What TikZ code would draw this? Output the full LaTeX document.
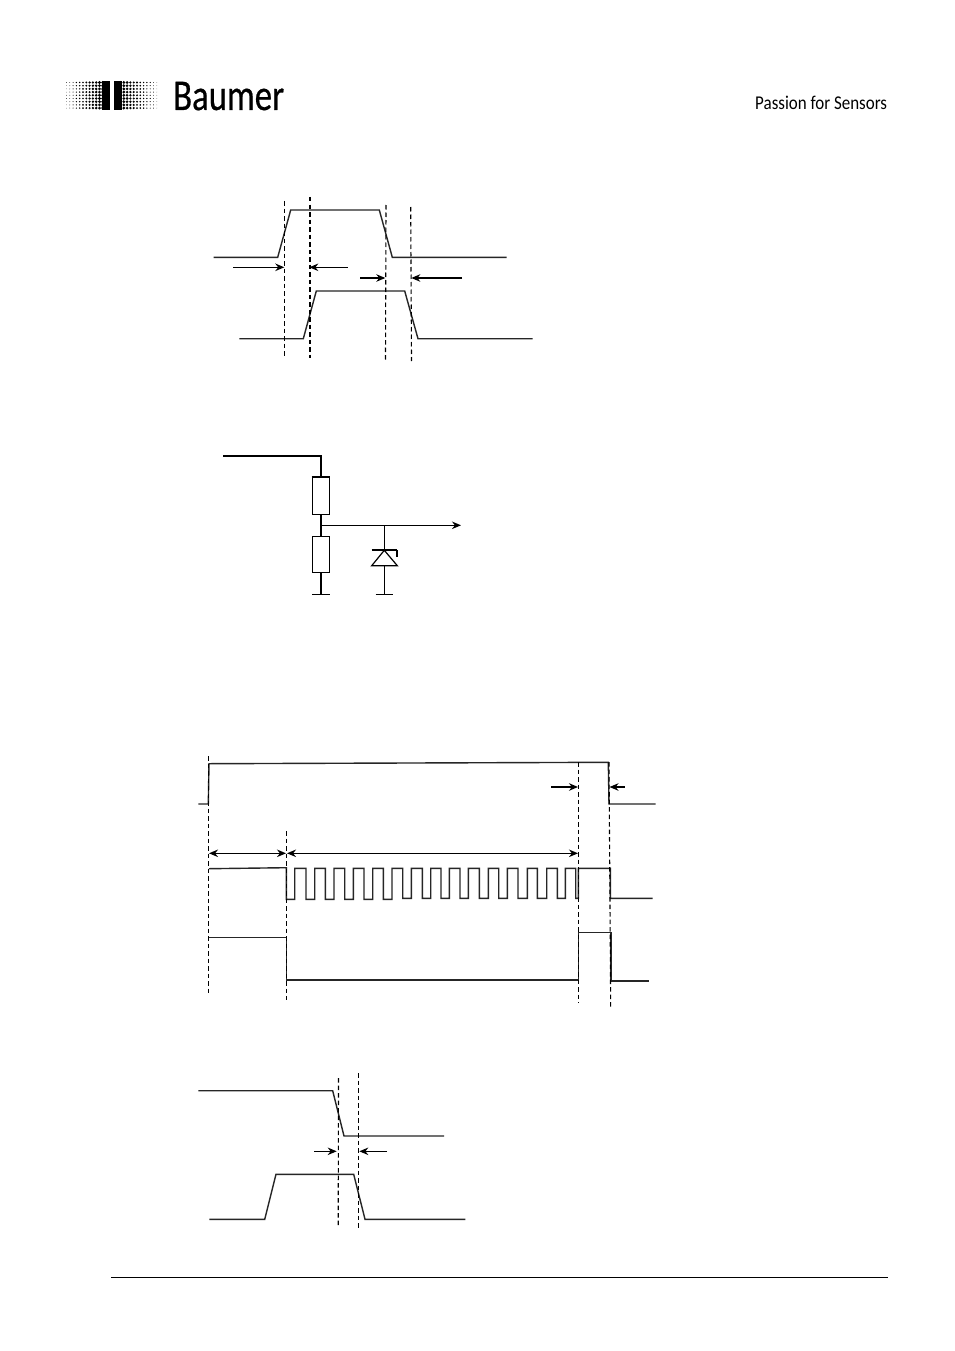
\documentclass[tikz,border=0pt]{standalone}
\usepackage{fontspec}
\setmainfont{Carlito}
\newfontfamily\brandfont[FakeBold=0.6]{Carlito}
\usetikzlibrary{arrows.meta}
\tikzset{
  wave/.style={line width=1.4pt,black!85,line join=miter},
  wire/.style={line width=1.2pt,black},
  thickwire/.style={line width=2.4pt,black},
  guide/.style={line width=1.1pt,black,dash pattern=on 4.5pt off 3pt},
  guideheavy/.style={guide,line width=2pt},
  pointer/.style={line width=1.3pt,black,-{Stealth[length=9pt,width=7.5pt]}},
  twoway/.style={line width=1.3pt,black,{Stealth[length=9pt,width=7.5pt]}-{Stealth[length=9pt,width=7.5pt]}},
  resistor/.style={draw,line width=1.2pt,minimum width=17pt,inner sep=0pt,fill=white},
  brand/.style={inner sep=0pt,anchor=base west,text=black}
}
\begin{document}
\begin{tikzpicture}[x=1pt,y=-1pt]
\useasboundingbox (0,0) rectangle (954,1351);
\fill[white] (0,0) rectangle (954,1351);

% logo halftone
\foreach \i in {0,...,11}{
  \foreach \j in {0,...,8}{
    \pgfmathsetmacro{\r}{0.3+0.125*\i}
    \fill[black] ({66.5+3.3*\i},{82.5+3.2*\j}) circle[radius=\r];
    \fill[black] ({156.8-3.3*\i},{82.5+3.2*\j}) circle[radius=\r];
  }
}
\fill[black] (101.5,80.8) rectangle (110,110);
\fill[black] (113.5,80.8) rectangle (122,110);
\node[brand] (brandname) at (173,110) {\scalebox{0.79}[1]{\brandfont\fontsize{44}{44}\selectfont Baumer}};
\node[brand] (slogan) at (755,109.5) {\scalebox{0.87}[1]{\fontsize{19.5}{19.5}\selectfont Passion for Sensors}};

% diagram 1
\draw[wave] (213.7,257.3) -- (277.7,257.3) -- (290.7,210) -- (379.3,210) -- (392.3,257.3) -- (506.7,257.3);
\draw[wave] (239.3,338.7) -- (303.3,338.7) -- (316.3,291) -- (404.7,291) -- (418,338.7) -- (532.7,338.7);
\draw[guide] (284.3,201) -- (284.3,357);
\draw[guideheavy] (310,197) -- (310,358);
\draw[guide] (386,205) -- (385.5,361);
\draw[guide] (410.7,207) -- (411.5,361);
\draw[pointer] (233.3,267.3) -- (284.3,267.3);
\draw[pointer] (347.7,267.3) -- (309.3,267.3);
\draw[pointer] (360,278) -- (385.3,278);
\draw[pointer] (462,278) -- (411.3,278);

% diagram 2
\node[resistor,minimum height=36.6pt] (r1) at (320.8,496) {};
\node[resistor,minimum height=36pt] (r2) at (320.8,554.3) {};
\coordinate (vin) at (223.3,456);
\coordinate (corner) at (320.8,456);
\coordinate (junction) at (320.8,525.3);
\coordinate (tap) at (384.3,525.3);
\coordinate (out) at (461,525.3);
\coordinate (gnda) at (320.8,594.3);
\coordinate (gndb) at (384.3,594.3);
\draw[thickwire] (vin) -- (corner) -- (r1.north);
\draw[thickwire] (r1.north west) -- (r1.north east);
\draw[thickwire] (r1.south) -- (r2.north);
\draw[thickwire] (r2.south) -- (gnda);
\draw[wire] (312,594.3) -- (330,594.3);
\draw[pointer] (junction) -- (out);
\draw[wire] (tap) -- (384.3,550.3);
\draw[line width=2.2pt] (371.7,550.3) -- (397.3,550.3);
\draw[wire] (396.9,550.3) -- (396.9,556.7);
\draw[wire,line join=miter] (384.3,550.3) -- (371.7,565.7) -- (397.3,565.7) -- cycle;
\draw[wire] (384.3,565.7) -- (gndb);
\draw[wire] (375.7,594.3) -- (393.3,594.3);

% diagram 3
\draw[wave] (198.3,804) -- (208.3,804) -- (209,763.7) -- (608.3,762.3) -- (609,804) -- (655.7,804);
\draw[wave] (209,868.7) -- (286.3,867.7) -- (286.3,899.3) -- (294.7,899.3) -- (294.7,868.3)
  -- (306,868.3) -- (306,899.3) -- (314.7,899.3) -- (314.7,868.3)
  -- (325.3,868.3) -- (325.3,899.3) -- (334,899.3) -- (334,868.3)
  -- (344.7,868.3) -- (344.7,899.3) -- (353.3,899.3) -- (353.3,868.3)
  -- (364,868.3) -- (364,899.3) -- (372.7,899.3) -- (372.7,868.3)
  -- (383.3,868.3) -- (383.3,899.3) -- (392,899.3) -- (392,868.3)
  -- (402.7,868.3) -- (402.7,898.3) -- (411.3,898.3) -- (411.3,868.3)
  -- (422.3,868.3) -- (422.3,898.3) -- (430.7,898.3) -- (430.7,868.3)
  -- (441,868.3) -- (441,898.3) -- (449.3,898.3) -- (449.3,868.3)
  -- (460,868.3) -- (460,898.3) -- (468.3,898.3) -- (468.3,868.3)
  -- (479.3,868.3) -- (479.3,898.3) -- (488.3,898.3) -- (488.3,868.3)
  -- (498.7,868.3) -- (498.7,898.3) -- (507.3,898.3) -- (507.3,868.3)
  -- (518,868.3) -- (518,898.3) -- (527.3,898.3) -- (527.3,868.3)
  -- (537.3,868.3) -- (537.3,898.3) -- (546.7,898.3) -- (546.7,868.3)
  -- (557.3,868.3) -- (557.3,898.3) -- (565.3,898.3) -- (565.3,868.3)
  -- (575.7,868.3) -- (575.7,898.3) -- (578.3,898.3) -- (578.3,868.3)
  -- (610.3,868.3) -- (610.3,898.3) -- (652.7,898.3);
\draw[wave] (209,937.3) -- (286.3,937.3) -- (286.3,980) -- (578.3,980) -- (578.3,932.3) -- (611,932.3) -- (611,981) -- (648.7,981);
\draw[guide] (208.5,756) -- (208.5,996);
\draw[guide] (286.3,831) -- (286.3,1000);
\draw[guide] (578.3,762) -- (578.3,1003);
\draw[guide] (609,762) -- (610.7,1008);
\draw[twoway] (209,853.3) -- (286,853.3);
\draw[twoway] (287,853.3) -- (578,853.3);
\draw[pointer] (551,787) -- (578,787);
\draw[pointer] (624.7,787) -- (609.5,787);

% diagram 4
\draw[wave] (198.3,1090.7) -- (332.7,1090.7) -- (344,1136) -- (444,1136);
\draw[wave] (209.3,1219.3) -- (264.7,1219.3) -- (276,1174.3) -- (353.7,1174.3) -- (365,1219.3) -- (465.3,1219.3);
\draw[guide] (338.5,1078) -- (338.2,1226);
\draw[guide] (358.3,1073) -- (358.3,1229);
\draw[pointer] (314,1151.3) -- (336.7,1151.3);
\draw[pointer] (387,1151.3) -- (359.3,1151.3);

% footer
\draw[line width=1pt] (111,1277) -- (888,1277);
\end{tikzpicture}
\end{document}
